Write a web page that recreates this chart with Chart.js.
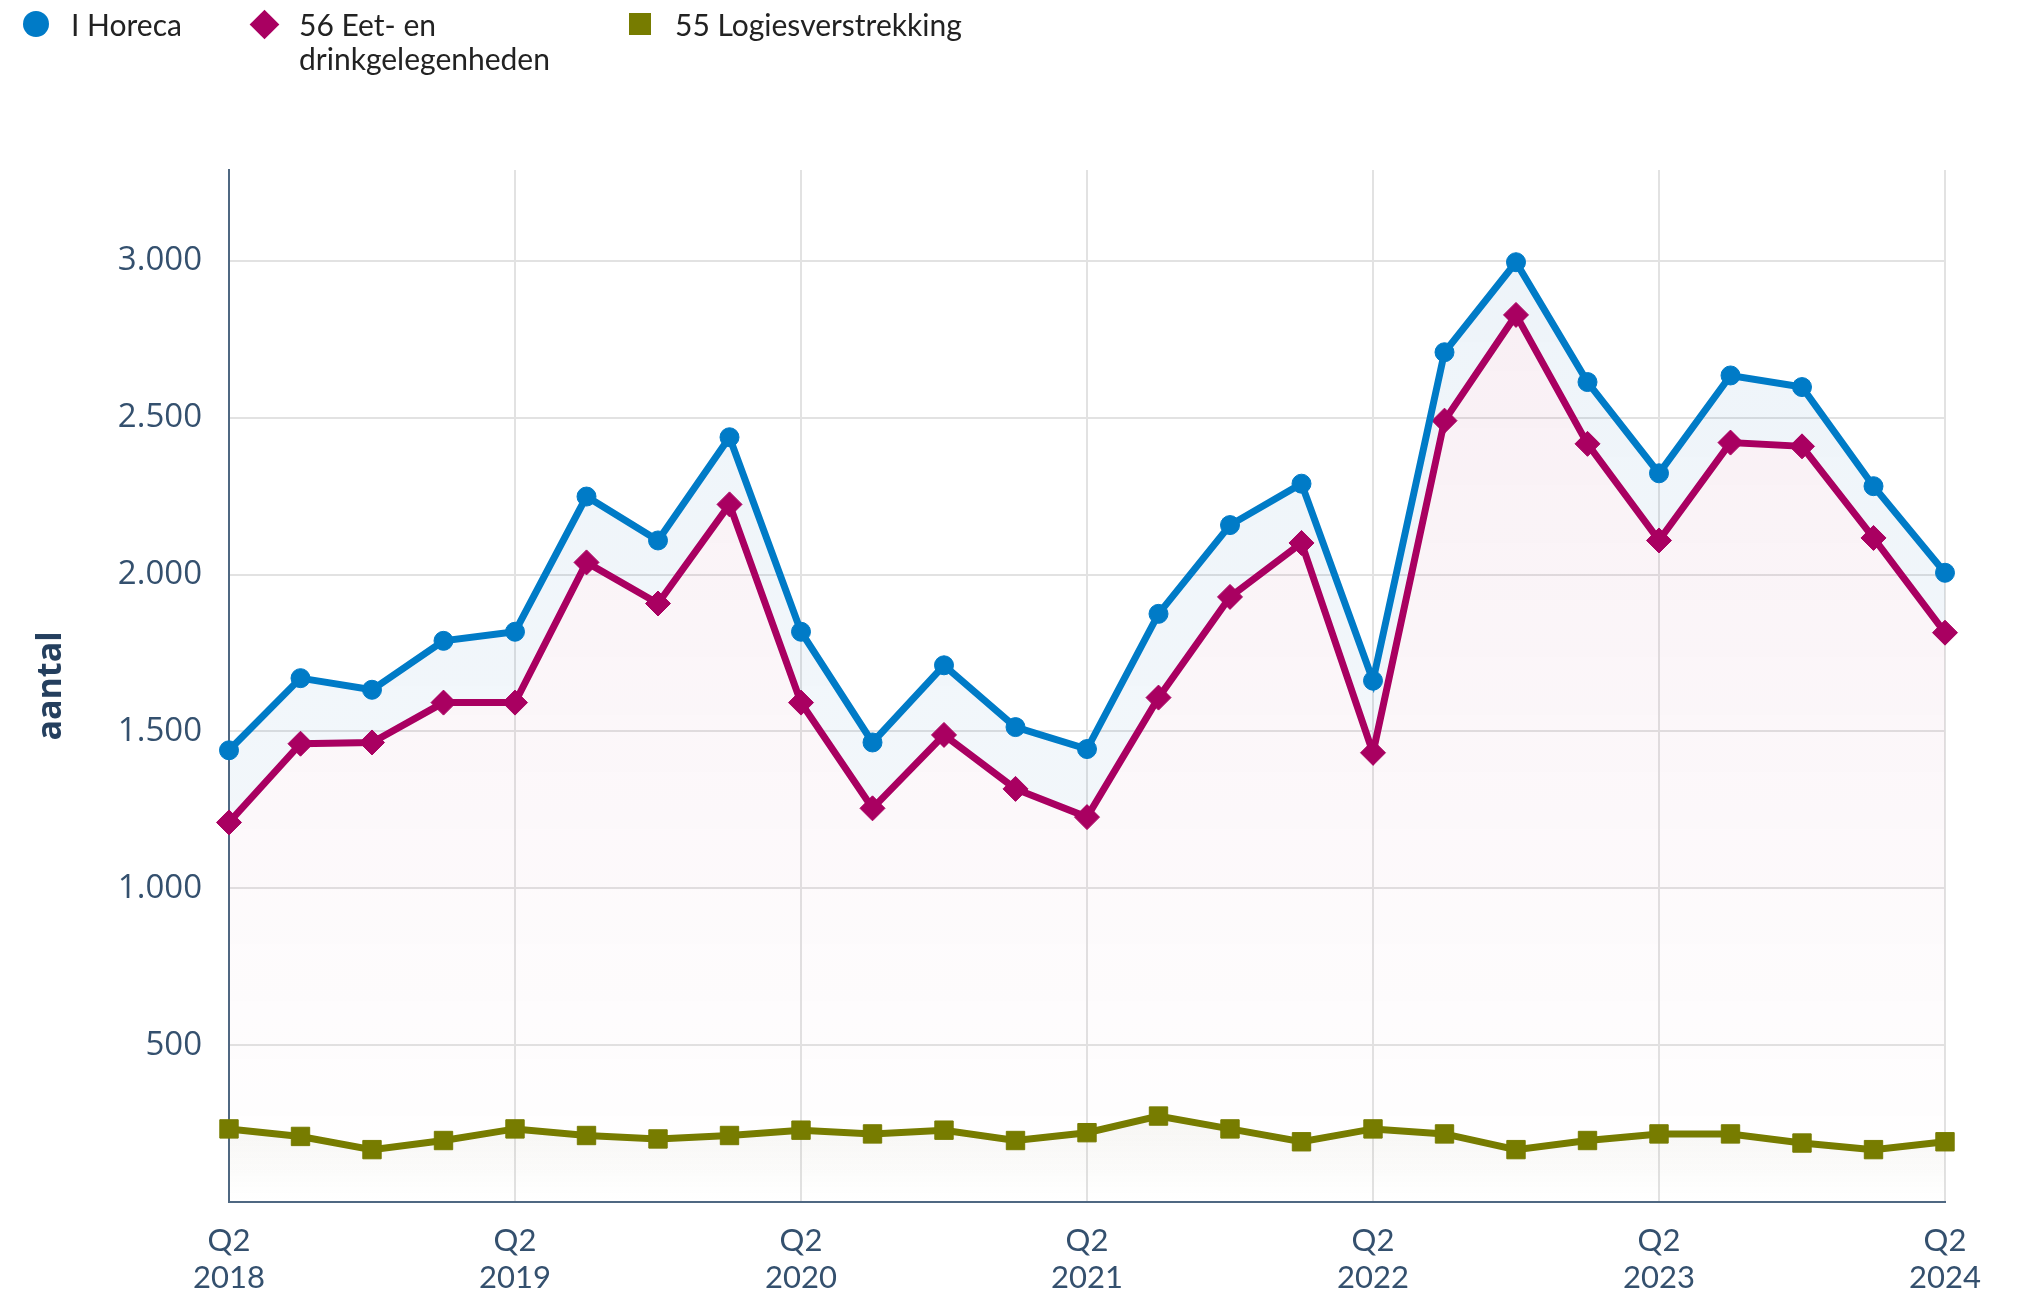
<!DOCTYPE html>
<html lang="nl">
<head>
<meta charset="utf-8">
<title>Horeca</title>
<script src="https://cdn.jsdelivr.net/npm/chart.js@4.4.1/dist/chart.umd.min.js"></script>
<style>
  body { margin: 0; background: #fff; }
  #wrap { position: relative; width: 2020px; height: 1296px; }
  #legenda { position: absolute; left: 0; top: 0; font-family: Lato, "Open Sans", sans-serif; font-size: 30px; color: #222; }
  .item { position: absolute; line-height: 34px; white-space: nowrap; }
  .mk { position: absolute; }
</style>
</head>
<body>
<div id="wrap">
  <canvas id="grafiek" width="2020" height="1296"></canvas>
  <div id="legenda"></div>
</div>
<script>
// kwartalen (Q2 2018 t/m Q2 2024)
const kwartalen = [
  '2018 Q2','2018 Q3','2018 Q4','2019 Q1','2019 Q2','2019 Q3','2019 Q4','2020 Q1',
  '2020 Q2','2020 Q3','2020 Q4','2021 Q1','2021 Q2','2021 Q3','2021 Q4','2022 Q1',
  '2022 Q2','2022 Q3','2022 Q4','2023 Q1','2023 Q2','2023 Q3','2023 Q4','2024 Q1',
  '2024 Q2'
];

// aantallen per reeks
const horeca = [1440, 1670, 1633, 1789, 1818, 2249, 2109, 2438, 1818, 1465, 1711, 1514, 1444,
  1875, 2158, 2290, 1662, 2709, 2996, 2614, 2323, 2635, 2598, 2282, 2006];
const eetDrink = [1210, 1461, 1465, 1592, 1592, 2039, 1908, 2224, 1592, 1255, 1489, 1317, 1227,
  1608, 1929, 2101, 1432, 2491, 2828, 2417, 2109, 2421, 2409, 2117, 1815];
const logies = [233, 209, 167, 196, 233, 212, 201, 212, 229, 217, 229, 196, 221,
  274, 233, 192, 233, 217, 167, 196, 217, 217, 188, 167, 192];

const reeksNamen = ['I Horeca', '56 Eet- en\ndrinkgelegenheden', '55 Logiesverstrekking'];
const yTicks = [500, 1000, 1500, 2000, 2500, 3000];

const blauw = '#007bc7';
const violet = '#a90061';
const mosgroen = '#777c00';
const tekstKleur = '#34506e';
const asKleur = '#4f6882';

// legenda in html
const legenda = document.getElementById('legenda');
const legendaItems = [
  { naam: reeksNamen[0], kleur: blauw, vorm: 'cirkel', x: 71, mx: 36 },
  { naam: reeksNamen[1], kleur: violet, vorm: 'ruit', x: 299, mx: 264 },
  { naam: reeksNamen[2], kleur: mosgroen, vorm: 'vierkant', x: 675, mx: 640 }
];
legendaItems.forEach(function(it) {
  let m = document.createElement('div');
  m.className = 'mk';
  m.style.background = it.kleur;
  if (it.vorm === 'cirkel') {
    m.style.width = '26px'; m.style.height = '26px'; m.style.borderRadius = '50%';
    m.style.left = (it.mx - 13) + 'px'; m.style.top = '11px';
  } else if (it.vorm === 'ruit') {
    m.style.width = '21px'; m.style.height = '21px'; m.style.transform = 'rotate(45deg)';
    m.style.left = (it.mx - 10) + 'px'; m.style.top = '14px';
  } else {
    m.style.width = '22px'; m.style.height = '22px';
    m.style.left = (it.mx - 11) + 'px'; m.style.top = '13px';
  }
  legenda.appendChild(m);
  let t = document.createElement('div');
  t.className = 'item';
  t.style.left = it.x + 'px';
  t.style.top = '7px';
  t.innerHTML = it.naam.replace('\n', '<br>');
  legenda.appendChild(t);
});

function verloop(kleurTop, kleurOnder) {
  return function(ctx) {
    const area = ctx.chart.chartArea;
    if (!area) return 'transparent';
    const g = ctx.chart.ctx.createLinearGradient(0, area.top, 0, area.bottom);
    g.addColorStop(0, kleurTop);
    g.addColorStop(1, kleurOnder);
    return g;
  };
}

function logiesVerloop(ctx) {
  const chart = ctx.chart;
  const area = chart.chartArea;
  if (!area) return 'transparent';
  const y = chart.scales.y;
  const g = chart.ctx.createLinearGradient(0, y.getPixelForValue(280), 0, area.bottom);
  g.addColorStop(0, 'rgba(110,110,60,0.06)');
  g.addColorStop(1, 'rgba(110,110,60,0)');
  return g;
}

function puntjes(v) {
  return String(v).replace(/\B(?=(\d{3})+(?!\d))/g, '.');
}

new Chart(document.getElementById('grafiek'), {
  type: 'line',
  data: {
    labels: kwartalen,
    datasets: [
      {
        label: reeksNamen[0],
        data: horeca,
        borderColor: blauw,
        backgroundColor: verloop('rgba(0,90,170,0.07)', 'rgba(0,90,170,0.035)'),
        pointBackgroundColor: blauw,
        pointBorderColor: blauw,
        pointStyle: 'circle',
        pointRadius: 9.5,
        fill: '+1'
      },
      {
        label: reeksNamen[1],
        data: eetDrink,
        borderColor: violet,
        backgroundColor: verloop('rgba(150,0,80,0.07)', 'rgba(150,0,80,0)'),
        pointBackgroundColor: violet,
        pointBorderColor: violet,
        pointStyle: 'rectRot',
        pointRadius: 12.5,
        fill: 'origin'
      },
      {
        label: reeksNamen[2],
        data: logies,
        borderColor: mosgroen,
        backgroundColor: logiesVerloop,
        pointBackgroundColor: mosgroen,
        pointBorderColor: mosgroen,
        pointStyle: 'rect',
        pointRadius: 13,
        fill: 'origin'
      }
    ]
  },
  options: {
    responsive: false,
    animation: false,
    devicePixelRatio: 1,
    elements: {
      line: { borderWidth: 7, tension: 0 },
      point: { borderWidth: 1, hoverRadius: 10 }
    },
    layout: { padding: { top: 170, right: 75, bottom: 0, left: 0 } },
    plugins: {
      legend: { display: false },
      tooltip: { enabled: false },
      filler: { drawTime: 'beforeDatasetsDraw' }
    },
    scales: {
      x: {
        offset: false,
        grid: {
          color: function(ctx) {
            return (ctx.index % 4 === 0) ? '#e2e2e2' : 'rgba(0,0,0,0)';
          },
          lineWidth: 2,
          drawTicks: false
        },
        border: { color: asKleur, width: 2 },
        ticks: {
          autoSkip: false,
          maxRotation: 0,
          padding: 20,
          color: tekstKleur,
          font: { family: 'Lato', size: 31 },
          callback: function(v) {
            const delen = this.getLabelForValue(v).split(' ');
            return delen[1] === 'Q2' ? [delen[1], delen[0]] : '';
          }
        },
        afterFit: function(scale) { scale.height = 94; }
      },
      y: {
        min: 0,
        max: 3290,
        grid: { color: '#e2e2e2', lineWidth: 2, drawTicks: false },
        border: { color: asKleur, width: 2 },
        afterBuildTicks: function(scale) {
          scale.ticks = yTicks.map(function(v) { return { value: v }; });
        },
        ticks: {
          padding: 27,
          color: tekstKleur,
          font: { family: 'Open Sans', size: 33 },
          callback: function(v) { return puntjes(v); }
        },
        title: {
          display: true,
          text: 'aantal',
          color: '#243f5e',
          font: { family: 'Open Sans', size: 34, weight: 'bold' },
          padding: { top: 31, bottom: 0 }
        },
        afterFit: function(scale) { scale.width = 229; }
      }
    }
  }
});
</script>
</body>
</html>
